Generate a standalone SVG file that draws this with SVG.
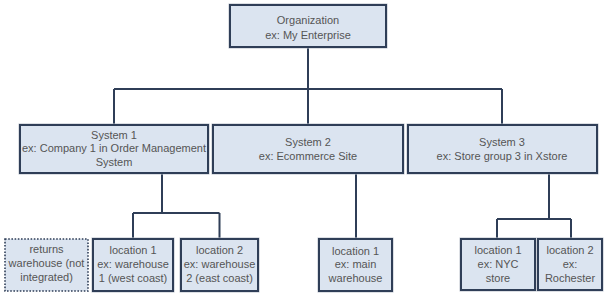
<svg xmlns="http://www.w3.org/2000/svg" width="615" height="296" viewBox="0 0 615 296">
<style>
.box{fill:#dbe4f0;stroke:#2f3e57;stroke-width:2}
.dot{fill:#dbe4f0;stroke:#2f3e57;stroke-width:1.6;stroke-dasharray:1.6 1.6}
.halo{fill:none;stroke:#b9c0ca;stroke-width:1}
.t{font-family:"Liberation Sans",Arial,sans-serif;font-size:11px;fill:#555;text-anchor:middle}
.c{fill:none;stroke:#2f3e57;stroke-width:2}
</style>
<rect width="615" height="296" fill="#fff"/>
<g id="connectors">
<path class="c" d="M308 47V89M114 89H502M114 89V125M308 89V125M502 89V125"/>
<path class="c" d="M162 173V213M133 213H219.5M133 213V239M219.5 213V239"/>
<path class="c" d="M356 173V239"/>
<path class="c" d="M549 173V219M497 219H571M497 219V239M571 219V239"/>
</g>
<g id="org">
<rect class="halo" x="229" y="4" width="158" height="44"/>
<rect class="box" x="230" y="5" width="156" height="42"/>
<text class="t" x="308" y="24">Organization</text>
<text class="t" x="308" y="39">ex: My Enterprise</text>
</g>
<g id="sys1">
<rect class="halo" x="19" y="124" width="190" height="50"/>
<rect class="box" x="20" y="125" width="188" height="48"/>
<text class="t" x="114" y="139">System 1</text>
<text class="t" x="114" y="152">ex: Company 1 in Order Management</text>
<text class="t" x="114" y="166">System</text>
</g>
<g id="sys2">
<rect class="halo" x="212" y="124" width="192" height="50"/>
<rect class="box" x="213" y="125" width="190" height="48"/>
<text class="t" x="308" y="146">System 2</text>
<text class="t" x="308" y="160">ex: Ecommerce Site</text>
</g>
<g id="sys3">
<rect class="halo" x="407" y="124" width="191" height="50"/>
<rect class="box" x="408" y="125" width="189" height="48"/>
<text class="t" x="502" y="146">System 3</text>
<text class="t" x="502" y="160">ex: Store group 3 in Xstore</text>
</g>
<g id="returns">
<rect class="dot" x="5" y="239" width="83" height="52"/>
<text class="t" x="46.5" y="253">returns</text>
<text class="t" x="46.5" y="267">warehouse (not</text>
<text class="t" x="46.5" y="281">integrated)</text>
</g>
<g id="s1loc1">
<rect class="halo" x="92" y="238" width="82" height="54"/>
<rect class="box" x="93" y="239" width="80" height="52"/>
<text class="t" x="133" y="254">location 1</text>
<text class="t" x="133" y="268">ex: warehouse</text>
<text class="t" x="133" y="282">1 (west coast)</text>
</g>
<g id="s1loc2">
<rect class="halo" x="180" y="238" width="79" height="54"/>
<rect class="box" x="181" y="239" width="77" height="52"/>
<text class="t" x="219.5" y="254">location 2</text>
<text class="t" x="219.5" y="268">ex: warehouse</text>
<text class="t" x="219.5" y="282">2 (east coast)</text>
</g>
<g id="s2loc1">
<rect class="halo" x="318" y="238" width="75" height="54"/>
<rect class="box" x="319" y="239" width="73" height="52"/>
<text class="t" x="355.5" y="255">location 1</text>
<text class="t" x="355.5" y="268">ex: main</text>
<text class="t" x="355.5" y="282">warehouse</text>
</g>
<g id="s3loc1">
<rect class="halo" x="460" y="238" width="76" height="53"/>
<rect class="box" x="461" y="239" width="74" height="51"/>
<text class="t" x="498" y="254">location 1</text>
<text class="t" x="498" y="268">ex: NYC</text>
<text class="t" x="498" y="282">store</text>
</g>
<g id="s3loc2">
<rect class="halo" x="537" y="238" width="66" height="53"/>
<rect class="box" x="538" y="239" width="64" height="51"/>
<text class="t" x="570" y="254">location 2</text>
<text class="t" x="570" y="268">ex:</text>
<text class="t" x="570" y="282">Rochester</text>
</g>
</svg>
